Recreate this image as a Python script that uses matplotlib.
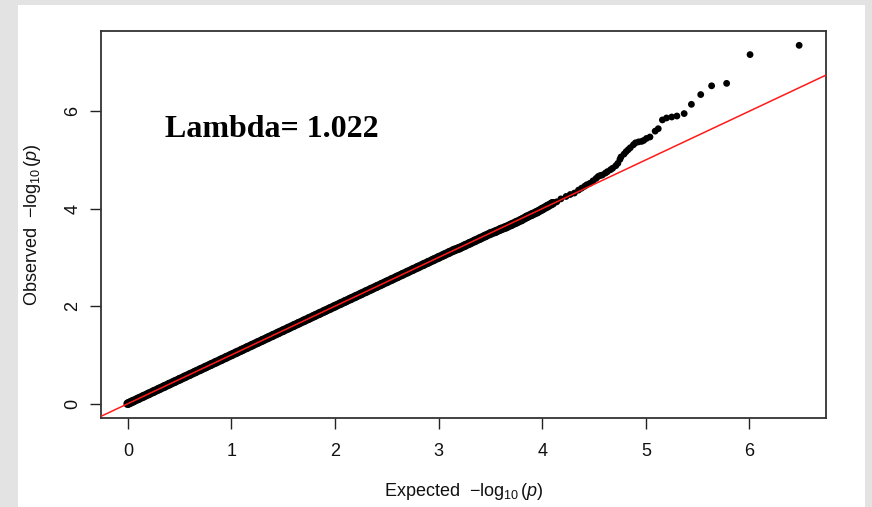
import matplotlib
matplotlib.use("Agg")
import matplotlib.pyplot as plt
from matplotlib.patches import Rectangle

# ---- data ----
bulk_expected = [0.00, 0.02, 0.05, 0.10, 0.15, 0.20, 0.25, 0.30, 0.35, 0.40, 0.45, 0.50,
                 0.55, 0.60, 0.65, 0.70, 0.75, 0.80, 0.85, 0.90, 0.95, 1.00, 1.05, 1.10,
                 1.15, 1.20, 1.25, 1.30, 1.35, 1.40, 1.45, 1.50, 1.55, 1.60, 1.65, 1.70,
                 1.75, 1.80, 1.85, 1.90, 1.95, 2.00, 2.05, 2.10, 2.15, 2.20, 2.25, 2.30,
                 2.35, 2.40, 2.45, 2.50, 2.55, 2.60, 2.65, 2.70, 2.75, 2.80, 2.85, 2.90,
                 2.95, 3.00, 3.05, 3.10, 3.15, 3.20, 3.25, 3.30, 3.35, 3.40, 3.45, 3.50,
                 3.55, 3.60, 3.65, 3.70, 3.75, 3.80, 3.85, 3.90, 3.95, 4.00, 4.05, 4.10]
bulk_observed = [0.00, 0.02, 0.05, 0.10, 0.15, 0.20, 0.25, 0.30, 0.35, 0.40, 0.45, 0.50,
                 0.55, 0.60, 0.65, 0.70, 0.75, 0.80, 0.85, 0.90, 0.95, 1.00, 1.05, 1.10,
                 1.15, 1.20, 1.25, 1.30, 1.35, 1.40, 1.45, 1.50, 1.55, 1.60, 1.65, 1.70,
                 1.75, 1.80, 1.85, 1.90, 1.95, 2.00, 2.05, 2.10, 2.15, 2.20, 2.25, 2.30,
                 2.35, 2.40, 2.45, 2.50, 2.55, 2.60, 2.65, 2.70, 2.75, 2.80, 2.85, 2.90,
                 2.95, 3.00, 3.05, 3.10, 3.15, 3.19, 3.24, 3.29, 3.34, 3.39, 3.44, 3.49,
                 3.53, 3.58, 3.62, 3.67, 3.72, 3.77, 3.83, 3.88, 3.93, 3.99, 4.05, 4.11]

tail_expected = [4.14, 4.18, 4.23, 4.27, 4.31, 4.35, 4.38, 4.41, 4.43, 4.46, 4.49, 4.52,
                 4.54, 4.56, 4.58, 4.61, 4.63, 4.66, 4.68, 4.71, 4.73, 4.75, 4.76, 4.79,
                 4.81, 4.83, 4.85, 4.88, 4.90, 4.93, 4.96, 4.98, 5.006, 5.04, 5.09, 5.12,
                 5.16, 5.20, 5.25, 5.30, 5.37, 5.44, 5.53, 5.635, 5.78, 6.006, 6.48]
tail_observed = [4.14, 4.20, 4.25, 4.29, 4.32, 4.38, 4.42, 4.46, 4.49, 4.52, 4.57, 4.62,
                 4.66, 4.68, 4.69, 4.73, 4.76, 4.80, 4.83, 4.88, 4.93, 5.01, 5.06, 5.12,
                 5.17, 5.21, 5.25, 5.31, 5.35, 5.37, 5.38, 5.40, 5.44, 5.47, 5.59, 5.64,
                 5.82, 5.86, 5.88, 5.90, 5.95, 6.14, 6.34, 6.52, 6.57, 7.16, 7.35]

x_ticks = [0, 1, 2, 3, 4, 5, 6]
y_ticks = [0, 2, 4, 6]
lambda_text = "Lambda= 1.022"

# ---- figure ----
plt.rcParams['font.family'] = ['Liberation Sans', 'DejaVu Sans']
plt.rcParams['mathtext.fontset'] = 'custom'
plt.rcParams['mathtext.rm'] = 'Liberation Sans'
plt.rcParams['mathtext.it'] = 'Liberation Sans:italic'

W, H = 872, 507
fig = plt.figure(figsize=(W / 100, H / 100), dpi=100)
fig.patch.set_facecolor('#e3e3e3')
fig.patches.append(Rectangle((18 / W, 0), (865 - 18) / W, (507 - 5) / H,
                             transform=fig.transFigure, facecolor='white',
                             edgecolor='none', zorder=-5))

ax = fig.add_axes([101 / W, 1 - 418 / H, (826 - 101) / W, (418 - 31) / H])
ax.set_zorder(2)
ax.set_facecolor('white')

all_x = bulk_expected + tail_expected
all_y = bulk_observed + tail_observed
xmax = max(all_x)
ymax = max(all_y)
ax.set_xlim(-0.04 * xmax, xmax * 1.04)
ax.set_ylim(-0.04 * ymax, ymax * 1.04)

# the dense bulk of points merges into a solid band
ax.plot(bulk_expected, bulk_observed, color='black', lw=6.2,
        solid_capstyle='round', solid_joinstyle='round', zorder=2)
ax.scatter(bulk_expected, bulk_observed, s=38, color='black', edgecolors='none', zorder=2)
ax.scatter(tail_expected, tail_observed, s=24, color='black', edgecolors='none', zorder=2)
ax.axline((0, 0), slope=1, color='#ff1a1a', lw=1.1, zorder=3)

ax.set_xticks(x_ticks)
ax.set_yticks(y_ticks)
ax.tick_params(axis='both', direction='out', length=8, width=1.0, colors='#222222',
               labelsize=13, labelcolor='#111111')
ax.tick_params(axis='x', pad=10)
ax.tick_params(axis='y', pad=6, labelrotation=90)
for lab in ax.get_yticklabels():
    lab.set_va('center')

for sp in ax.spines.values():
    sp.set_linewidth(1.3)
    sp.set_color('#333333')

ax.set_xlabel(r'Expected  $-\log_{10}(p)$', fontsize=13, color='#111111')
ax.set_ylabel(r'Observed  $-\log_{10}(p)$', fontsize=13, color='#111111')
ax.xaxis.set_label_coords(0.501, -0.19)
ax.yaxis.set_label_coords(-0.094, 0.5)
ax.xaxis.label.set_va('center')
ax.yaxis.label.set_va('center')

ax.text(0.36, 5.47, lambda_text, fontsize=23, fontweight='bold',
        family=['Liberation Serif', 'DejaVu Serif'], ha='left', va='baseline', color='black')

fig.savefig('out.png', dpi=100, facecolor=fig.get_facecolor())
